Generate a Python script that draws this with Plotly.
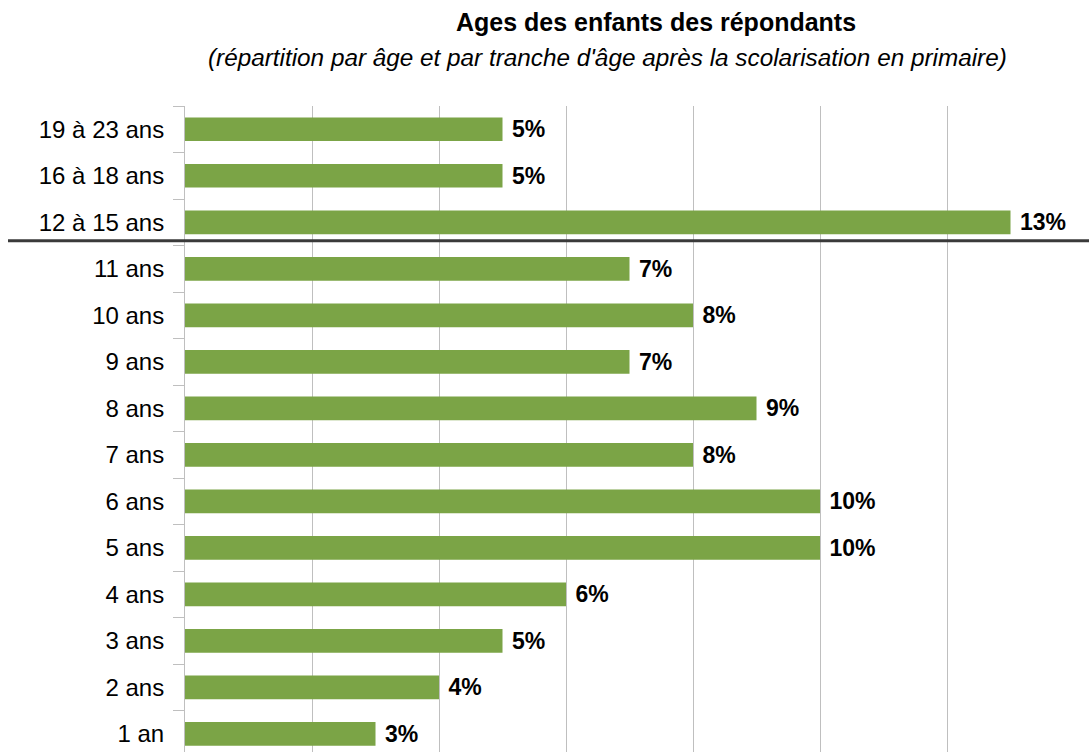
import plotly.graph_objects as go

categories = ["1 an", "2 ans", "3 ans", "4 ans", "5 ans", "6 ans", "7 ans", "8 ans",
              "9 ans", "10 ans", "11 ans", "12 à 15 ans", "16 à 18 ans", "19 à 23 ans"]
values = [3, 4, 5, 6, 10, 10, 8, 9, 7, 8, 7, 13, 5, 5]

title = "Ages des enfants des répondants"
subtitle = "(répartition par âge et par tranche d'âge après la scolarisation en primaire)"

W, H = 1089, 752
L, R, T, B = 185, 15, 106, 0
pw, ph = W - L - R, H - T - B

FONT = "Arial, Liberation Sans, sans-serif"
GREEN = "#7BA446"
GRID = "#BFBFBF"

fig = go.Figure(go.Bar(
    x=values, y=categories, orientation="h",
    marker=dict(color=GREEN, line=dict(width=0)),
    width=0.51,
    text=values,
    texttemplate="\u00a0%{x}%",
    textposition="outside",
    constraintext="none",
    textfont=dict(family=FONT, size=23, color="#000000", weight="bold"),
    cliponaxis=False,
))

fig.update_layout(
    width=W, height=H,
    margin=dict(l=L, r=R, t=T, b=B, pad=0),
    paper_bgcolor="white", plot_bgcolor="white",
    showlegend=False,
    font=dict(family=FONT, color="#000000"),
    xaxis=dict(range=[0, 14], dtick=2, showgrid=True, gridcolor=GRID, gridwidth=1,
               showticklabels=False, zeroline=False, showline=False, ticks=""),
    yaxis=dict(type="category", categoryorder="array", categoryarray=categories,
               range=[-0.39, 13.5], showline=True, linecolor=GRID, linewidth=1,
               ticks="outside", tickson="boundaries", ticklen=11, tickcolor=GRID,
               tickfont=dict(family=FONT, size=24, color="#000000"),
               ticklabelstandoff=15, showgrid=False, zeroline=False),
    bargap=0.49,
    annotations=[
        dict(text="<b>" + title + "</b>", xref="paper", yref="paper",
             x=(656 - L) / pw, y=1 + (T - 22) / ph, xanchor="center", yanchor="middle",
             showarrow=False, font=dict(family=FONT, size=25, color="#000000")),
        dict(text="<i>" + subtitle + "</i>", xref="paper", yref="paper",
             x=(607.5 - L) / pw, y=1 + (T - 57) / ph, xanchor="center", yanchor="middle",
             showarrow=False, font=dict(family=FONT, size=24.3, color="#000000")),
    ],
    shapes=[dict(type="line", xref="paper", yref="y",
                 x0=(8 - L) / pw, x1=(W - L) / pw, y0=10.6, y1=10.6,
                 line=dict(color="#3A3A3A", width=3))],
)

fig.write_html("out.html")
